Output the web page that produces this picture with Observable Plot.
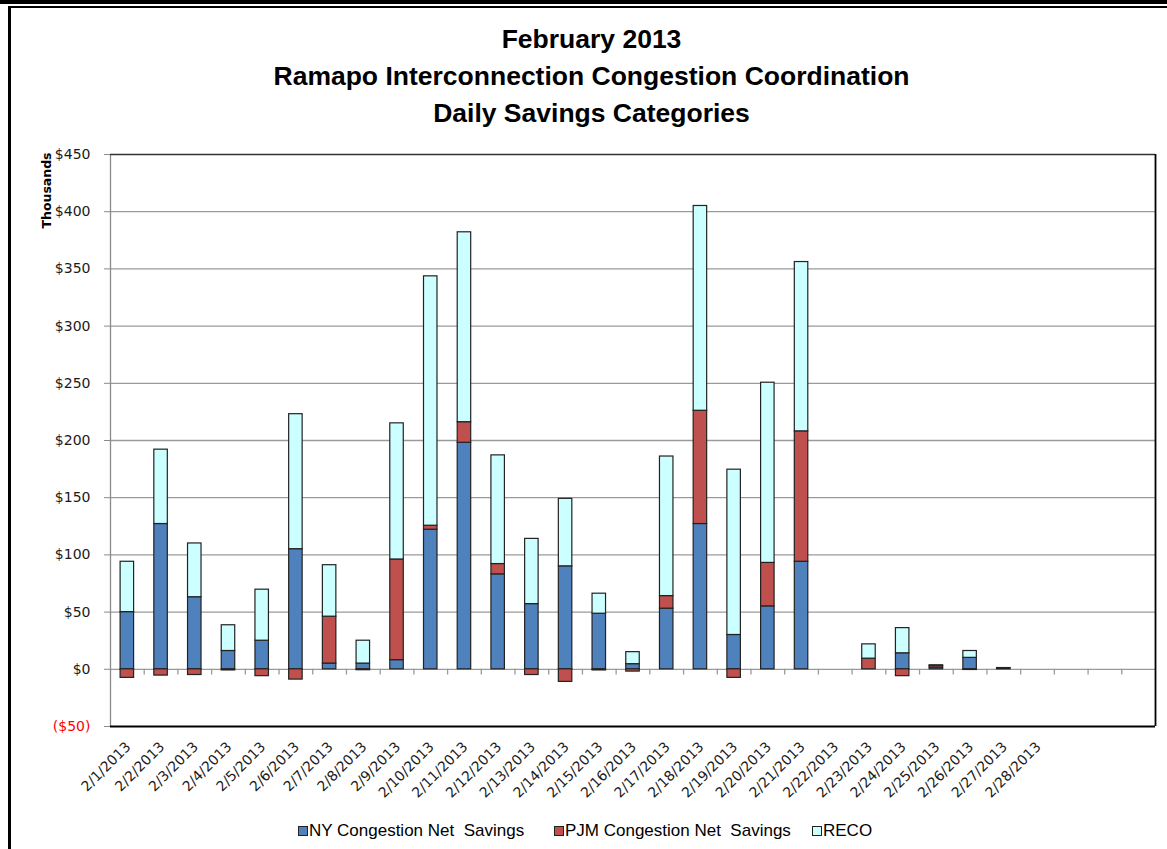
<!DOCTYPE html>
<html>
<head>
<meta charset="utf-8">
<script src="https://cdn.jsdelivr.net/npm/d3@7"></script>
<script src="https://cdn.jsdelivr.net/npm/@observablehq/plot@0.6"></script>
<style>
  html, body { margin: 0; padding: 0; background: #fff; }
  body { width: 1167px; height: 849px; overflow: hidden; position: relative; }
  #bar0 { position: absolute; left: 0; top: 0; width: 1167px; height: 4px; background: #000; }
  #frame { position: absolute; left: 8px; top: 6px; width: 1200px; height: 900px; border-top: 2px solid #000; border-left: 3px solid #000; }
  #title { position: relative; height: 140px; box-sizing: border-box; padding-top: 21px; padding-left: 16px;
           text-align: center; font-family: "Liberation Sans Narrow", "Liberation Sans", sans-serif; font-weight: bold;
           font-size: 26.5px; line-height: 37px; color: #000; }
  #chart { position: relative; height: 670px; }
  #chart svg { display: block; }
  #legend { position: relative; height: 39px; font-family: "Liberation Sans", Arial, sans-serif; font-size: 17px; color: #000; }
  .item { position: absolute; top: 11px; white-space: pre; display: flex; align-items: center; }
  .sw { width: 8px; height: 8px; border: 1px solid #222; margin-right: 1px; }
</style>
</head>
<body>
<div id="bar0"></div>
<div id="frame"></div>
<div id="title">February 2013<br>Ramapo Interconnection Congestion Coordination<br>Daily Savings Categories</div>
<div id="chart"></div>
<div id="legend"></div>
<script>
// ---- data (thousands of $) ----
const dates = ["2/1/2013","2/2/2013","2/3/2013","2/4/2013","2/5/2013","2/6/2013","2/7/2013",
  "2/8/2013","2/9/2013","2/10/2013","2/11/2013","2/12/2013","2/13/2013","2/14/2013",
  "2/15/2013","2/16/2013","2/17/2013","2/18/2013","2/19/2013","2/20/2013","2/21/2013",
  "2/22/2013","2/23/2013","2/24/2013","2/25/2013","2/26/2013","2/27/2013","2/28/2013"];
const slotCount = 31;
const seriesNames = ["NY Congestion Net Savings", "PJM Congestion Net Savings", "RECO"];
const seriesColors = ["#4F81BD", "#C0504D", "#CCFFFF"];
const nySavings = [50,127,63,16,25,105,5,5,8,122,198,83,57,90,48.6,4.5,53,127,30,55,94,0,0,14,1.5,10,0.8,0];
const pjmSavings = [-7.5,-5.5,-5,-1,-6,-9,41,-0.8,88,3.5,18,9,-5,-11,-1,-2,11,99,-7.5,38,114,0,9.3,-6,1.5,-0.6,0,0];
const recoSavings = [44,65,47,22.5,44.6,118,45,20,119,218,166,95,57,59,17.5,10.5,122,179,144.5,157.5,148,0,12.5,22,0.5,6,0.3,0];
const yTicks = [-50,0,50,100,150,200,250,300,350,400,450];

const seriesValues = [nySavings, pjmSavings, recoSavings];
const rows = [];
seriesValues.forEach((vals, s) => vals.forEach((v, i) => { if (v !== 0) rows.push({i, v, s: seriesNames[s]}); }));

const W = 1167, H = 670, mL = 110, mR = 12, mT = 14, mB = 84;
const slots = d3.range(slotCount);
const step = (W - mL - mR) / slotCount;
const fmt = v => v < 0 ? `($${-v})` : `$${v}`;

const chart = Plot.plot({
  width: W, height: H, marginLeft: mL, marginRight: mR, marginTop: mT, marginBottom: mB,
  style: {fontFamily: "DejaVu Sans, sans-serif", fontSize: "13px", color: "#1a1a1a", background: "transparent"},
  x: {type: "band", domain: slots, paddingInner: 0.6, paddingOuter: 0.3, round: false, axis: null},
  y: {domain: [-50, 450], axis: null},
  color: {domain: seriesNames, range: seriesColors},
  marks: [
    Plot.gridY(yTicks.filter(t => t > -50 && t < 450), {stroke: "#9a9a9a", strokeOpacity: 1, strokeWidth: 1.3}),
    Plot.ruleX(d3.range(1, slotCount), {dx: -step / 2, y1: 0, y2: -5, stroke: "#9a9a9a", strokeWidth: 1.3}),
    Plot.barY(rows, {x: "i", y: "v", fill: "s", stroke: "#222", strokeWidth: 1.2}),
    Plot.ruleX([0], {dx: -step / 2, stroke: "#8a8a8a", strokeWidth: 1.3}),
    Plot.ruleY([450], {stroke: "#333", strokeWidth: 1.5}),
    Plot.ruleY([-50], {stroke: "#000", strokeWidth: 1.8}),
    Plot.ruleX([slotCount - 1], {dx: step / 2, stroke: "#000", strokeWidth: 1.8}),
    Plot.axisY(yTicks, {tickFormat: fmt, tickSize: 6, tickPadding: 14, stroke: "#8a8a8a", label: null, fontSize: 14}),
    Plot.axisX(slots, {tickFormat: i => dates[i] ?? "", tickRotate: -45, tickSize: 0, tickPadding: 18, dx: 1, label: null, fontSize: 14}),
    Plot.text(["Thousands"], {frameAnchor: "top-left", dx: -68, dy: 36, rotate: -90, text: d => d, fontWeight: "bold", fontSize: 12.5, textAnchor: "middle", fill: "#000"})
  ]
});
document.getElementById("chart").appendChild(chart);
d3.select(chart).selectAll("text").filter(function() { return this.textContent.startsWith("("); }).attr("fill", "#FF0000");

const legendLeft = [298, 554, 812];
const legend = document.getElementById("legend");
seriesNames.forEach((n, k) => {
  const it = document.createElement("div");
  it.className = "item";
  it.style.left = legendLeft[k] + "px";
  const sw = document.createElement("span");
  sw.className = "sw";
  sw.style.background = seriesColors[k];
  const tx = document.createElement("span");
  tx.textContent = n.replace("Net Savings", "Net  Savings");
  it.appendChild(sw); it.appendChild(tx);
  legend.appendChild(it);
});
</script>
</body>
</html>
